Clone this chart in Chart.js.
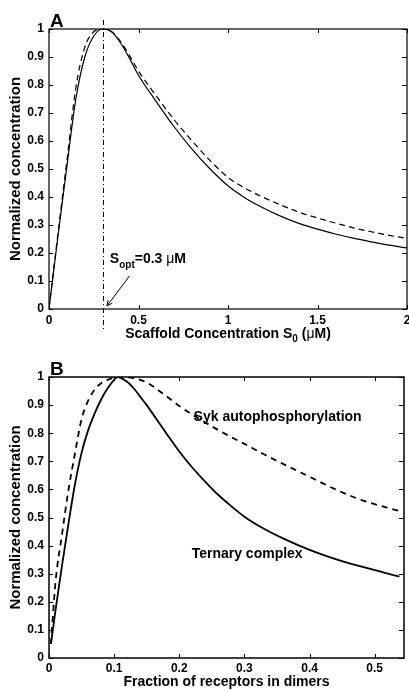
<!DOCTYPE html>
<html>
<head>
<meta charset="utf-8">
<script src="https://cdn.jsdelivr.net/npm/chart.js@4.4.0/dist/chart.umd.min.js"></script>
<style>
  html, body { margin: 0; padding: 0; background: #fff; }
  #wrap { position: relative; width: 409px; height: 690px; }
  .panel { position: absolute; left: 0; width: 409px; }
  #panelA { top: 0; height: 350px; }
  #panelB { top: 350px; height: 340px; }
</style>
</head>
<body>
<div id="wrap">
  <div class="panel" id="panelA"><canvas id="chartA"></canvas></div>
  <div class="panel" id="panelB"><canvas id="chartB"></canvas></div>
</div>
<script>
// ---- panel A: scaffold concentration (uM) ----
const aX      = [0, 0.05, 0.1, 0.15, 0.2, 0.25, 0.3, 0.35, 0.4, 0.45, 0.5, 0.6, 0.7, 0.8, 0.9, 1.0, 1.1, 1.2, 1.3, 1.4, 1.5, 1.6, 1.7, 1.8, 1.9, 2.0];
const aSolid  = [0, 0.26, 0.51, 0.75, 0.9, 0.975, 1.0, 0.99, 0.95, 0.895, 0.835, 0.74, 0.65, 0.57, 0.5, 0.44, 0.395, 0.36, 0.33, 0.305, 0.285, 0.268, 0.253, 0.24, 0.228, 0.218];
const aDashed = [0, 0.27, 0.53, 0.79, 0.935, 0.99, 1.0, 0.99, 0.955, 0.905, 0.85, 0.76, 0.675, 0.6, 0.53, 0.47, 0.43, 0.398, 0.37, 0.345, 0.325, 0.307, 0.29, 0.276, 0.263, 0.252];
const aXTicks = [0, 0.5, 1, 1.5, 2];
const sOpt = 0.3;

// ---- panel B: fraction of receptors in dimers ----
const bX       = [0.003, 0.01, 0.02, 0.03, 0.04, 0.05, 0.06, 0.07, 0.08, 0.09, 0.1, 0.105, 0.11, 0.12, 0.13, 0.14, 0.15, 0.16, 0.18, 0.2, 0.22, 0.24, 0.26, 0.28, 0.3, 0.33, 0.36, 0.4, 0.44, 0.48, 0.538];
const bTernary = [0.05, 0.17, 0.33, 0.48, 0.62, 0.73, 0.81, 0.87, 0.92, 0.96, 0.99, 1.0, 0.997, 0.983, 0.96, 0.93, 0.9, 0.867, 0.8, 0.735, 0.678, 0.627, 0.58, 0.54, 0.503, 0.46, 0.425, 0.385, 0.352, 0.325, 0.29];
const bSyk     = [0.05, 0.27, 0.44, 0.6, 0.73, 0.85, 0.915, 0.955, 0.978, 0.99, 0.998, 1.0, 1.0, 0.999, 0.996, 0.99, 0.98, 0.966, 0.932, 0.897, 0.866, 0.838, 0.811, 0.786, 0.762, 0.725, 0.69, 0.645, 0.6, 0.562, 0.523];
const bXTicks  = [0, 0.1, 0.2, 0.3, 0.4, 0.5];

const yTicks = [0, 0.1, 0.2, 0.3, 0.4, 0.5, 0.6, 0.7, 0.8, 0.9, 1];

const FONT = '"Liberation Sans", Arial, Helvetica, sans-serif';
Chart.defaults.font.family = FONT;
Chart.defaults.color = '#000';

// text with subscripts: parts = [{t, sub, normal}]
function drawRich(ctx, parts, x, y, size, align) {
  const subSize = Math.round(size * 0.72);
  let total = 0;
  parts.forEach(p => {
    ctx.font = (p.normal ? '' : 'bold ') + (p.sub ? subSize : size) + 'px ' + FONT;
    p.w = ctx.measureText(p.t).width;
    total += p.w;
  });
  let cx = align === 'center' ? x - total / 2 : x;
  ctx.textAlign = 'left';
  ctx.textBaseline = 'alphabetic';
  parts.forEach(p => {
    ctx.font = (p.normal ? '' : 'bold ') + (p.sub ? subSize : size) + 'px ' + FONT;
    ctx.fillText(p.t, cx, p.sub ? y + size * 0.32 : y);
    cx += p.w;
  });
}

// box round the plot with inward ticks on all four sides
function framePlugin(width) {
  return {
    id: 'frame',
    afterDatasetsDraw(chart) {
      const { ctx, chartArea: a, scales: { x, y } } = chart;
      ctx.save();
      ctx.strokeStyle = '#000';
      ctx.lineWidth = width;
      ctx.setLineDash([]);
      ctx.strokeRect(a.left, a.top, a.right - a.left, a.bottom - a.top);
      ctx.lineWidth = 1;
      ctx.beginPath();
      x.ticks.forEach(t => {
        const px = Math.round(x.getPixelForValue(t.value)) + 0.5;
        ctx.moveTo(px, a.bottom); ctx.lineTo(px, a.bottom - 4);
        ctx.moveTo(px, a.top); ctx.lineTo(px, a.top + 4);
      });
      y.ticks.forEach(t => {
        const py = Math.round(y.getPixelForValue(t.value)) + 0.5;
        ctx.moveTo(a.left, py); ctx.lineTo(a.left + 4, py);
        ctx.moveTo(a.right, py); ctx.lineTo(a.right - 5, py);
      });
      ctx.stroke();
      ctx.restore();
    }
  };
}

function line(xs, ys, width, dash) {
  return {
    data: xs.map((x, i) => ({ x: x, y: ys[i] })),
    borderColor: '#000',
    borderWidth: width,
    borderDash: dash,
    pointRadius: 0,
    fill: false,
    cubicInterpolationMode: 'monotone'
  };
}

function scales(xMax, xTicks, xHeight, xPad) {
  return {
    x: {
      type: 'linear', min: 0, max: xMax,
      afterBuildTicks: s => { s.ticks = xTicks.map(v => ({ value: v })); },
      afterFit: s => { s.height = xHeight; s.paddingLeft = 0; s.paddingRight = 0; },
      ticks: { callback: v => String(v), font: { size: 12, weight: 'bold' }, color: '#000', padding: xPad, maxRotation: 0, autoSkip: false },
      grid: { display: false, drawTicks: false },
      border: { display: false }
    },
    y: {
      type: 'linear', min: 0, max: 1,
      afterBuildTicks: s => { s.ticks = yTicks.map(v => ({ value: v })); },
      afterFit: s => { s.width = 49; },
      ticks: { callback: v => String(v), font: { size: 12, weight: 'bold' }, color: '#000', padding: 5, autoSkip: false },
      grid: { display: false, drawTicks: false },
      border: { display: false },
      title: { display: true, text: 'Normalized concentration', font: { size: 15, weight: 'bold' }, color: '#000', padding: { top: 7, bottom: 0 } }
    }
  };
}

// ---- chart A ----
const notesA = {
  id: 'notesA',
  afterDraw(chart) {
    const { ctx, chartArea: a, scales: { x, y } } = chart;
    ctx.save();
    ctx.fillStyle = '#000';
    ctx.font = 'bold 19px ' + FONT;
    ctx.textAlign = 'left';
    ctx.textBaseline = 'alphabetic';
    ctx.fillText('A', a.left + 1, a.top - 2);

    // S_opt marker
    const px = Math.round(x.getPixelForValue(sOpt)) + 0.5;
    ctx.strokeStyle = '#000';
    ctx.lineWidth = 1;
    ctx.setLineDash([5, 3, 1, 3]);
    ctx.beginPath();
    ctx.moveTo(px, a.top - 9);
    ctx.lineTo(px, a.bottom + 21);
    ctx.stroke();
    ctx.setLineDash([]);

    drawRich(ctx, [{ t: 'S' }, { t: 'opt', sub: true }, { t: '=0.3 ' }, { t: 'μ', normal: true }, { t: 'M' }],
      x.getPixelForValue(0.34), y.getPixelForValue(0.164), 14, 'left');

    // arrow
    const x0 = x.getPixelForValue(0.45), y0 = y.getPixelForValue(0.118);
    const x1 = x.getPixelForValue(0.324), y1 = y.getPixelForValue(0.011);
    const ang = Math.atan2(y1 - y0, x1 - x0);
    ctx.beginPath();
    ctx.moveTo(x0, y0); ctx.lineTo(x1, y1);
    ctx.moveTo(x1 - 6 * Math.cos(ang - 0.45), y1 - 6 * Math.sin(ang - 0.45));
    ctx.lineTo(x1, y1);
    ctx.lineTo(x1 - 6 * Math.cos(ang + 0.45), y1 - 6 * Math.sin(ang + 0.45));
    ctx.stroke();

    drawRich(ctx, [{ t: 'Scaffold Concentration S' }, { t: '0', sub: true }, { t: ' (' }, { t: 'μ', normal: true }, { t: 'M)' }],
      (a.left + a.right) / 2, a.bottom + 29, 14, 'center');
    ctx.restore();
  }
};

new Chart(document.getElementById('chartA'), {
  type: 'line',
  data: { datasets: [line(aX, aSolid, 1.2, []), line(aX, aDashed, 1.2, [6, 4])] },
  options: {
    responsive: true,
    maintainAspectRatio: false,
    animation: false,
    layout: { padding: { top: 29, right: 2, left: 0, bottom: 0 } },
    plugins: { legend: { display: false }, tooltip: { enabled: false } },
    scales: scales(2, aXTicks, 41, 4)
  },
  plugins: [framePlugin(1.2), notesA]
});

// ---- chart B ----
const notesB = {
  id: 'notesB',
  afterDraw(chart) {
    const { ctx, chartArea: a, scales: { x, y } } = chart;
    ctx.save();
    ctx.fillStyle = '#000';
    ctx.font = 'bold 19px ' + FONT;
    ctx.textAlign = 'left';
    ctx.textBaseline = 'alphabetic';
    ctx.fillText('B', a.left + 1, a.top - 2);
    drawRich(ctx, [{ t: 'Syk autophosphorylation' }], x.getPixelForValue(0.222), y.getPixelForValue(0.844), 14, 'left');
    drawRich(ctx, [{ t: 'Ternary complex' }], x.getPixelForValue(0.219), y.getPixelForValue(0.355), 14, 'left');
    drawRich(ctx, [{ t: 'Fraction of receptors in dimers' }], (a.left + a.right) / 2, a.bottom + 28, 14, 'center');
    ctx.restore();
  }
};

new Chart(document.getElementById('chartB'), {
  type: 'line',
  data: { datasets: [line(bX, bTernary, 1.8, []), line(bX, bSyk, 1.8, [6, 5])] },
  options: {
    responsive: true,
    maintainAspectRatio: false,
    animation: false,
    layout: { padding: { top: 27, right: 5, left: 0, bottom: 0 } },
    plugins: { legend: { display: false }, tooltip: { enabled: false } },
    scales: scales(0.545, bXTicks, 32, 3)
  },
  plugins: [framePlugin(1.5), notesB]
});
</script>
</body>
</html>
